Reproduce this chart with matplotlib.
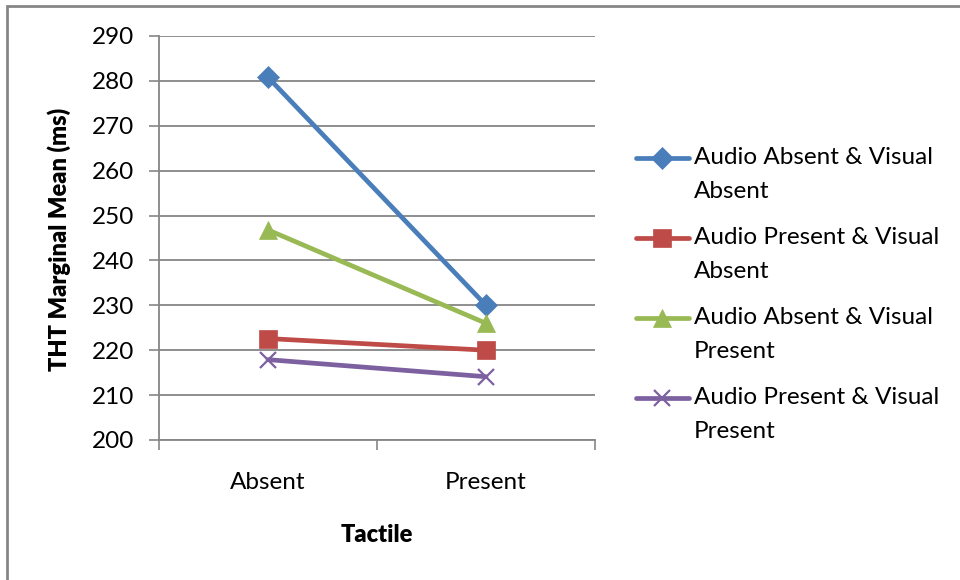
import matplotlib.pyplot as plt
from matplotlib.lines import Line2D
from matplotlib.patches import Rectangle

plt.rcParams["font.family"] = ["Lato", "DejaVu Sans"]

# marginal means (ms) by tactile condition
tactile = ["Absent", "Present"]
series_labels = [
    "Audio Absent & Visual\nAbsent",
    "Audio Present & Visual\nAbsent",
    "Audio Absent & Visual\nPresent",
    "Audio Present & Visual\nPresent",
]
aa_va = [280.8, 230.0]
ap_va = [222.6, 220.0]
aa_vp = [246.8, 226.0]
ap_vp = [217.9, 214.1]

colors = ["#4A7EBB", "#BE4B48", "#98B954", "#7D60A0"]
markers = ["D", "s", "^", "x"]
msizes = [11.5, 12.5, 12.5, 11.5]

grid_gray = "#868686"
W, H = 960, 580


def fx(px):
    return px / W


def fy(py):
    return 1 - py / H


fig = plt.figure(figsize=(9.6, 5.8), dpi=100)
ax = fig.add_axes([fx(159), fy(440), 436 / W, 404 / H])

xs = range(len(tactile))
for vals, c, m, ms in zip([aa_va, ap_va, aa_vp, ap_vp], colors, markers, msizes):
    ax.plot(xs, vals, color=c, lw=3.4, marker=m, ms=ms,
            mec=c, mfc=c, mew=1.6 if m == "x" else 0.5,
            solid_capstyle="round", zorder=3)

ax.set_ylim(200, 290)
ax.set_yticks(range(200, 291, 10))
ax.set_xlim(-0.5, 1.5)
ax.set_xticks([-0.5, 0.5, 1.5])
ax.set_xticklabels([])
ax.set_xticks(list(xs), minor=True)
ax.set_xticklabels(tactile, minor=True)
ax.tick_params(axis="x", which="major", length=7, width=1.2, color=grid_gray)
ax.tick_params(axis="x", which="minor", length=0, pad=23, labelsize=17.5)
ax.tick_params(axis="y", length=7, width=1.2, color=grid_gray, labelsize=17.5, pad=11)

ax.grid(axis="y", color=grid_gray, lw=1.3)
ax.set_axisbelow(True)
for side in ["top", "right"]:
    ax.spines[side].set_visible(False)
for side in ["left", "bottom"]:
    ax.spines[side].set_color(grid_gray)
    ax.spines[side].set_linewidth(1.3)

# axis titles
fig.text(fx(59), fy(239), "THT Marginal Mean (ms)", rotation=90,
         fontsize=17, fontweight="heavy", ha="center", va="center")
fig.text(fx(377), fy(535), "Tactile", fontsize=17, fontweight="heavy",
         ha="center", va="center")

# legend on the right, marker aligned with first text line
line_pitch = 32
for i, (lab, c, m, ms) in enumerate(zip(series_labels, colors, markers, msizes)):
    y = 158 + i * 80
    fig.add_artist(Line2D([fx(636), fx(689)], [fy(y), fy(y)], color=c, lw=3.4,
                          solid_capstyle="round"))
    fig.add_artist(Line2D([fx(662)], [fy(y)], marker=m, ms=ms, color=c,
                          mec=c, mfc=c, mew=1.6 if m == "x" else 0.5))
    # baseline alignment refers to the last line of the label
    fig.text(fx(694), fy(y + 8 + line_pitch), lab, fontsize=17.5,
             va="baseline", ha="left", linespacing=1.76)

# outer chart frame
fig.add_artist(Rectangle((fx(6.5), -0.1), 1.2, fy(5.5) + 0.1,
                         transform=fig.transFigure, fill=False,
                         ec=grid_gray, lw=2))

fig.savefig("out.png", dpi=100)
